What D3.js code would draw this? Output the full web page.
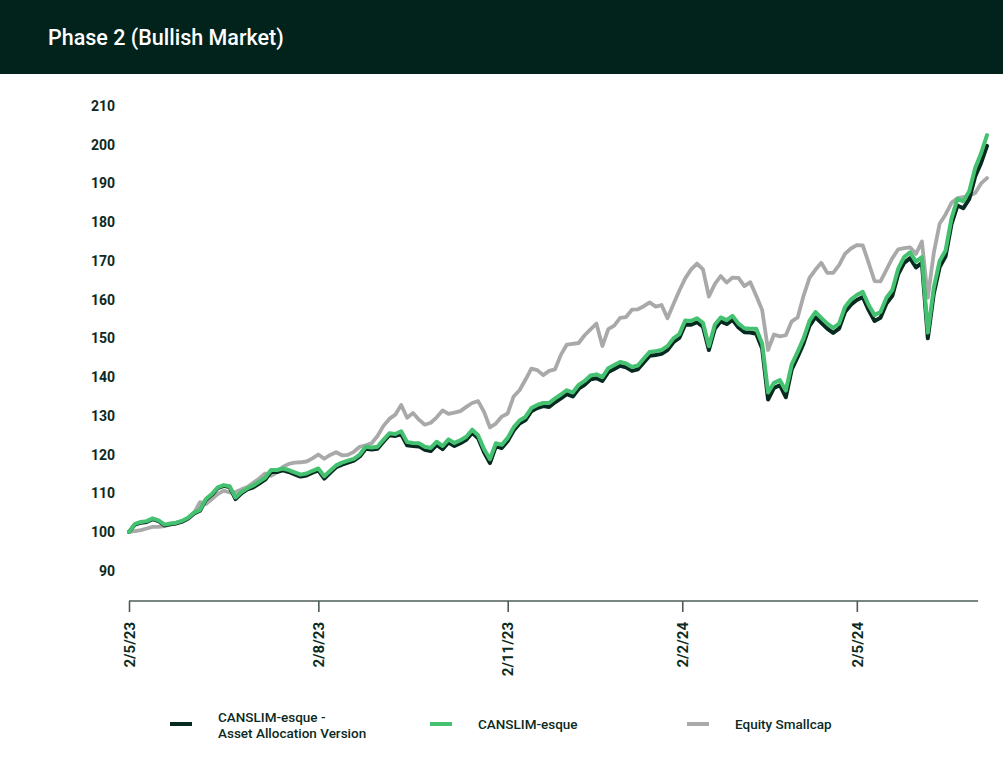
<!DOCTYPE html>
<html>
<head>
<meta charset="utf-8">
<script src="https://cdn.jsdelivr.net/npm/d3@7"></script>
<style>
  html, body { margin: 0; padding: 0; background: #ffffff; }
  svg { display: block; }
  text { font-family: Roboto, "Noto Sans", sans-serif; }
</style>
</head>
<body>
<svg id="chart" width="1003" height="768"></svg>
<script>
// ---------------- data ----------------
const title = "Phase 2 (Bullish Market)";
const xTickIndex = [0, 32, 64, 93.5, 123];
const xTickLabels = ["2/5/23", "2/8/23", "2/11/23", "2/2/24", "2/5/24"];
const yTicks = [90, 100, 110, 120, 130, 140, 150, 160, 170, 180, 190, 200, 210];

const seriesNames = ["CANSLIM-esque -\nAsset Allocation Version", "CANSLIM-esque", "Equity Smallcap"];

const canslimAA = [
  100.0, 101.9, 102.4, 102.6, 103.3, 102.8, 101.7, 102.0, 102.2, 102.7,
  103.5, 104.8, 105.5, 108.3, 109.6, 111.3, 111.9, 111.6, 108.5, 110.0,
  111.0, 111.5, 112.5, 113.5, 115.5, 115.5, 115.9, 115.5, 114.9, 114.3,
  114.6, 115.3, 115.9, 113.8, 115.3, 116.7, 117.4, 117.9, 118.4, 119.5,
  121.5, 121.3, 121.5, 123.3, 125.0, 124.8, 125.2, 122.4, 122.2, 122.1,
  121.2, 120.9, 122.5, 121.4, 123.1, 122.2, 122.9, 123.8, 125.6, 124.2,
  120.6, 117.8, 122.1, 121.7, 123.5, 126.2, 128.0, 128.9, 131.2, 132.0,
  132.5, 132.3, 133.5, 134.5, 135.6, 135.0, 137.0, 138.0, 139.4, 139.7,
  139.0, 141.3, 142.1, 142.9, 142.5, 141.6, 142.0, 143.8, 145.5, 145.7,
  146.0, 147.0, 149.0, 150.1, 153.6, 153.5, 154.2, 153.0, 147.0, 152.5,
  154.4, 153.7, 154.8, 152.8, 151.6, 151.5, 151.2, 147.4, 134.2, 137.2,
  137.9, 134.8, 142.0, 145.2, 148.7, 153.2, 155.5, 154.0, 152.5, 151.4,
  152.5, 156.8, 158.7, 159.9, 160.7, 157.3, 154.5, 155.3, 159.0, 161.0,
  166.6, 169.5, 170.7, 168.3, 169.5, 150.0, 161.5, 168.4, 171.2, 179.5,
  184.3, 183.6, 186.0, 191.8, 195.3, 199.7
];

const canslim = [
  100.0, 102.1, 102.6, 102.8, 103.5, 103.0, 101.9, 102.2, 102.4, 102.9,
  103.7, 105.0, 105.7, 108.5, 109.8, 111.5, 112.1, 111.8, 108.9, 110.3,
  111.3, 112.0, 113.0, 114.0, 116.0, 116.0, 116.4, 116.0, 115.4, 114.8,
  115.1, 115.8, 116.4, 114.4, 115.8, 117.2, 117.9, 118.4, 118.9, 120.0,
  122.0, 121.8, 122.0, 123.8, 125.5, 125.3, 126.0, 123.2, 123.0, 122.9,
  122.0, 121.7, 123.3, 122.2, 123.9, 123.0, 123.7, 124.6, 126.4, 125.0,
  121.4, 118.8, 122.9, 122.5, 124.3, 127.0, 128.8, 129.7, 132.0, 132.8,
  133.3, 133.3, 134.5, 135.5, 136.6, 136.0, 138.0, 139.0, 140.4, 140.7,
  140.0, 142.3, 143.1, 143.9, 143.5, 142.6, 143.0, 144.8, 146.5, 146.7,
  147.0, 148.0, 150.0, 151.1, 154.6, 154.5, 155.2, 154.0, 148.0, 153.5,
  155.4, 154.7, 155.8, 153.8, 152.6, 152.5, 152.5, 148.7, 136.0, 138.5,
  139.2, 136.5, 143.3, 146.5, 150.0, 154.5, 156.8, 155.3, 153.8, 152.7,
  153.8, 158.1, 160.0, 161.2, 162.0, 158.6, 156.0, 156.8, 160.5, 162.5,
  168.0, 171.0, 172.2, 169.8, 171.0, 151.5, 163.0, 170.0, 172.7, 181.0,
  186.0, 185.4, 188.0, 194.0, 197.8, 202.5
];

const smallcap = [
  100.0, 100.2, 100.5, 100.9, 101.3, 101.3, 101.5, 102.0, 102.4, 102.6,
  103.5, 104.9, 107.7, 107.2, 108.5, 109.8, 110.7, 110.2, 110.3, 111.0,
  111.6, 112.7, 113.8, 115.1, 114.5, 115.4, 116.8, 117.6, 117.9, 118.0,
  118.2, 119.0, 120.0, 118.9, 119.9, 120.6, 119.8, 119.9, 120.7, 122.0,
  122.4, 122.9, 124.8, 127.4, 129.2, 130.3, 132.8, 129.5, 130.7, 129.0,
  127.7, 128.2, 129.6, 131.4, 130.5, 130.8, 131.2, 132.3, 133.3, 133.8,
  131.0, 127.0, 128.0, 129.8, 130.6, 135.0, 136.6, 139.3, 142.2, 141.8,
  140.5, 141.6, 142.0, 145.8, 148.4, 148.6, 148.8, 150.8, 152.3, 153.8,
  148.0, 152.4, 153.3, 155.3, 155.5, 157.4, 157.5, 158.3, 159.3, 158.2,
  158.6, 155.2, 158.8, 162.3, 165.5, 167.8, 169.3, 167.8, 160.8, 164.0,
  166.1, 164.4, 165.7, 165.6, 163.5, 164.5, 161.0, 157.3, 147.0, 151.0,
  150.5, 150.8, 154.4, 155.4, 161.0, 165.6, 167.7, 169.5, 166.9, 166.9,
  168.9, 171.8, 173.2, 174.1, 174.0, 169.5, 164.8, 164.7, 167.7, 170.7,
  173.0, 173.3, 173.5, 171.8, 175.0, 160.5, 172.0, 179.6, 182.0, 185.0,
  186.2, 186.5, 186.8, 187.5, 190.0, 191.4
];

// ---------------- styles ----------------
const C_BAR = "#01231c";
const C_TEXT = "#0b2a22";
const C_BLACK = "#062a1f";
const C_GREEN = "#45c172";
const C_GRAY = "#a9a9a9";
const C_AXIS = "#4d5c57";

const svg = d3.select("#chart");
const W = 1003, H = 768;

// title bar
svg.append("rect").attr("x", 0).attr("y", 0).attr("width", W).attr("height", 74).attr("fill", C_BAR);
svg.append("text").attr("x", 48).attr("y", 45)
  .attr("fill", "#ffffff").attr("font-size", 21.5).attr("font-weight", 500)
  .text(title);

// scales
const N = canslim.length;
const x = d3.scaleLinear().domain([0, N - 1]).range([129, 987]);
const y = d3.scaleLinear().domain([90, 210]).range([570.7, 106]);

// y labels (no axis line)
const yAxis = d3.axisLeft(y).tickValues(yTicks).tickSize(0).tickPadding(0);
const yg = svg.append("g").attr("transform", "translate(115,0)").call(yAxis);
yg.select(".domain").remove();
yg.selectAll("text")
  .attr("font-family", "Roboto, sans-serif")
  .attr("font-size", 14).attr("font-weight", 700).attr("fill", C_TEXT);

// x axis
const axisY = 601;
const xAxis = d3.axisBottom(x).tickValues(xTickIndex)
  .tickFormat((d, i) => xTickLabels[i]).tickSize(11).tickSizeOuter(0);
const xg = svg.append("g").attr("transform", `translate(0,${axisY})`).call(xAxis);
xg.select(".domain")
  .attr("d", `M${x(0)},0H${x(N - 2.5)}`)
  .attr("stroke", C_AXIS).attr("stroke-width", 1.6);
xg.selectAll(".tick line").attr("stroke", C_AXIS).attr("stroke-width", 1.6);
xg.selectAll(".tick text")
  .attr("font-family", "Roboto, sans-serif")
  .attr("font-size", 15).attr("font-weight", 700).attr("fill", C_TEXT)
  .attr("transform", "rotate(-90)")
  .attr("text-anchor", "end")
  .attr("x", -21).attr("y", 0).attr("dy", "0.35em");

// lines
const line = d3.line().x((d, i) => x(i)).y(d => y(d)).curve(d3.curveLinear);
const series = [
  { data: smallcap, color: C_GRAY, w: 3.8 },
  { data: canslimAA, color: C_BLACK, w: 4 },
  { data: canslim, color: C_GREEN, w: 4 }
];
svg.append("g").selectAll("path").data(series).join("path")
  .attr("d", d => line(d.data))
  .attr("fill", "none")
  .attr("stroke", d => d.color)
  .attr("stroke-width", d => d.w)
  .attr("stroke-linejoin", "round")
  .attr("stroke-linecap", "round");

// legend
const legendItems = [
  { name: seriesNames[0], color: C_BLACK, lx: 170 },
  { name: seriesNames[1], color: C_GREEN, lx: 430 },
  { name: seriesNames[2], color: C_GRAY, lx: 687 }
];
const lg = svg.append("g");
legendItems.forEach(it => {
  lg.append("line").attr("x1", it.lx).attr("x2", it.lx + 22)
    .attr("y1", 724).attr("y2", 724)
    .attr("stroke", it.color).attr("stroke-width", 4);
  const lines = it.name.split("\n");
  const t = lg.append("text").attr("x", it.lx + 48)
    .attr("font-size", 13.5).attr("font-weight", 500).attr("fill", C_TEXT);
  const y0 = lines.length === 1 ? 728.5 : 722;
  lines.forEach((s, k) => {
    t.append("tspan").attr("x", it.lx + 48).attr("y", y0 + k * 16).text(s);
  });
});
</script>
</body>
</html>
